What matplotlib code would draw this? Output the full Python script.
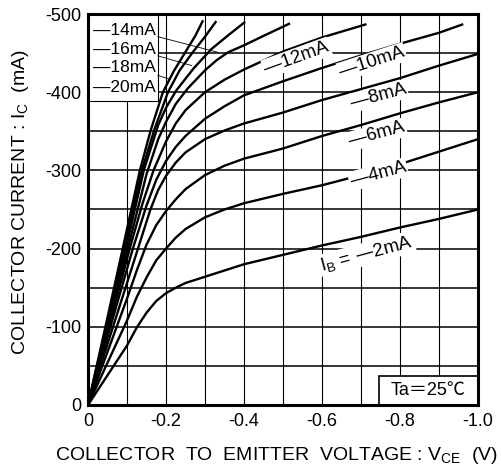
import numpy as np
import matplotlib
matplotlib.use('Agg')
import matplotlib.pyplot as plt
from matplotlib.patches import Rectangle

plt.rcParams['font.family'] = ['Liberation Sans', 'Noto Sans CJK JP', 'DejaVu Sans']
plt.rcParams['mathtext.default'] = 'regular'
plt.rcParams['axes.unicode_minus'] = False

# Ic - Vce curves, one per base current (V and mA, both negative)
ib_values = [-2, -4, -6, -8, -10, -12, -14, -16, -18, -20]

vce_2 = [0, -0.05, -0.1, -0.125, -0.15, -0.175, -0.2, -0.225, -0.25, -0.3, -0.35, -0.4,
         -0.5, -0.6, -0.7, -0.8, -0.9, -1.0]
ic_2 = [0, -38, -76, -99, -118, -133, -143, -150, -156, -164, -172, -180,
        -192, -204, -215, -227, -238, -250]

vce_4 = [0, -0.05, -0.1, -0.125, -0.15, -0.175, -0.2, -0.225, -0.25, -0.3, -0.35, -0.4,
         -0.5, -0.6, -0.7, -0.8, -0.9, -1.0]
ic_4 = [0, -54, -108, -138, -163, -185, -200, -214, -225, -240, -250, -258,
        -270, -281, -294, -308, -324, -340]

vce_6 = [0, -0.05, -0.1, -0.125, -0.15, -0.175, -0.2, -0.225, -0.25, -0.3, -0.35, -0.4,
         -0.5, -0.6, -0.7, -0.8, -0.9, -1.0]
ic_6 = [0, -68, -136, -172, -205, -230, -248, -263, -276, -294, -306, -315,
        -328, -344, -358, -373, -387, -400]

vce_8 = [0, -0.05, -0.1, -0.13, -0.16, -0.18, -0.2, -0.225, -0.25, -0.3, -0.35, -0.4,
         -0.5, -0.6, -0.7, -0.8, -0.9, -1.0]
ic_8 = [0, -78, -156, -203, -250, -275, -293, -310, -323, -340, -351, -360,
        -374, -390, -404, -418, -434, -449]

vce_10 = [0, -0.05, -0.115, -0.15, -0.175, -0.2, -0.225, -0.25, -0.3, -0.35, -0.4,
          -0.5, -0.6, -0.7, -0.8, -0.9, -0.962]
ic_10 = [0, -87, -200, -255, -288, -312, -330, -344, -366, -382, -396,
         -414, -431, -447, -462, -476, -487]

vce_12 = [0, -0.05, -0.107, -0.14, -0.168, -0.2, -0.225, -0.25, -0.3, -0.35, -0.4, -0.5, -0.6, -0.714]
ic_12 = [0, -93, -200, -258, -300, -337, -360, -377, -400, -416, -429, -452, -470, -487]

vce_14 = [0, -0.05, -0.102, -0.15, -0.18, -0.2, -0.225, -0.256, -0.3, -0.33, -0.359, -0.4, -0.45, -0.518]
ic_14 = [0, -98, -200, -295, -340, -362, -385, -405, -428, -441, -451, -460, -472, -488]

vce_16 = [0, -0.05, -0.097, -0.143, -0.18, -0.2, -0.226, -0.27, -0.316, -0.36, -0.403]
ic_16 = [0, -103, -200, -300, -358, -380, -402, -430, -455, -473, -490]

vce_18 = [0, -0.05, -0.093, -0.138, -0.17, -0.205, -0.235, -0.27, -0.3, -0.329]
ic_18 = [0, -107, -200, -300, -352, -400, -428, -452, -471, -491]

vce_20 = [0, -0.05, -0.089, -0.133, -0.16, -0.192, -0.22, -0.248, -0.275, -0.295]
ic_20 = [0, -112, -200, -300, -350, -400, -427, -450, -472, -492]

curves = [(vce_2, ic_2), (vce_4, ic_4), (vce_6, ic_6), (vce_8, ic_8), (vce_10, ic_10),
          (vce_12, ic_12), (vce_14, ic_14), (vce_16, ic_16), (vce_18, ic_18), (vce_20, ic_20)]

x_ticks = [0, -0.2, -0.4, -0.6, -0.8, -1.0]
x_tick_labels = ['0', '-0.2', '-0.4', '-0.6', '-0.8', '-1.0']
y_ticks = [0, -100, -200, -300, -400, -500]
y_tick_labels = ['0', '-100', '-200', '-300', '-400', '-500']

fig = plt.figure(figsize=(5.02, 4.73), dpi=100)
ax = fig.add_axes([0.1753, 0.1438, 0.777, 0.8266])

for v, i in curves:
    ax.plot(v, i, color='black', linewidth=1.7, solid_joinstyle='round',
            solid_capstyle='butt', zorder=3)

ax.set_xlim(0, -1.0)
ax.set_ylim(0, -500)

# fine grid every 0.1 V and 50 mA, labels only on the coarse steps
ax.set_xticks(np.arange(0, -1.05, -0.1), minor=True)
ax.set_yticks(np.arange(0, -525, -50), minor=True)
ax.set_xticks(x_ticks)
ax.set_xticklabels(x_tick_labels)
ax.set_yticks(y_ticks)
ax.set_yticklabels(y_tick_labels)
ax.tick_params(which='both', length=0, labelsize=13)
ax.tick_params(axis='x', pad=6)
ax.tick_params(axis='y', pad=5)
ax.grid(which='both', axis='y', color='black', linewidth=1.1)
ax.grid(which='both', axis='x', color='black', linewidth=0.8)
ax.set_axisbelow(True)
for s in ax.spines.values():
    s.set_linewidth(2.2)
    s.set_zorder(5)

ax.set_xlabel('COLLECTOR  TO  EMITTER  VOLTAGE : V$_{CE}$  (V)', fontsize=14)
ax.xaxis.set_label_coords(0.483, -0.103)
ax.set_ylabel('COLLECTOR CURRENT : I$_{C}$  (mA)', fontsize=14)
ax.yaxis.set_label_coords(-0.146, 0.518)

# box with the labels of the steepest curves
ax.add_patch(Rectangle((0, 0.778), 0.179, 0.222, transform=ax.transAxes,
                       facecolor='white', edgecolor='black', linewidth=0.8, zorder=4))
box_labels = ['—14mA', '—16mA', '—18mA', '—20mA']
box_y = [0.957, 0.908, 0.862, 0.811]
for lab, yy in zip(box_labels, box_y):
    ax.text(0.012, yy, lab, transform=ax.transAxes, fontsize=12.5, va='center', ha='left', zorder=6)

# leader lines from the box to the curves
leaders = [((0.179, 0.942), (0.333, 0.902)),
           ((0.179, 0.893), (0.266, 0.868)),
           ((0.179, 0.843), (0.210, 0.833))]
for (x0, y0), (x1, y1) in leaders:
    ax.plot([x0, x1], [y0, y1], transform=ax.transAxes, color='black', linewidth=0.6, zorder=6)

# curve labels
bbox = dict(facecolor='white', edgecolor='none', pad=1.0)
curve_labels = [('—12mA', 0.535, 0.888, 20),
                ('—10mA', 0.728, 0.877, 18),
                ('—8mA', 0.744, 0.790, 15),
                ('—6mA', 0.741, 0.692, 15),
                ('—4mA', 0.744, 0.590, 15),
                ('I$_{B}$ = —2mA', 0.715, 0.387, 15)]
for lab, xx, yy, rot in curve_labels:
    ax.text(xx, yy, lab, transform=ax.transAxes, fontsize=13.5, rotation=rot,
            ha='center', va='center', bbox=bbox, zorder=4)

# temperature note in the lower right corner
ax.add_patch(Rectangle((0.746, 0), 0.254, 0.075, transform=ax.transAxes,
                       facecolor='white', edgecolor='black', linewidth=1.2, zorder=4))
ax.text(0.873, 0.037, 'Ta＝25℃', transform=ax.transAxes, fontsize=13,
        ha='center', va='center', zorder=6)

fig.savefig('out.png', dpi=100)
